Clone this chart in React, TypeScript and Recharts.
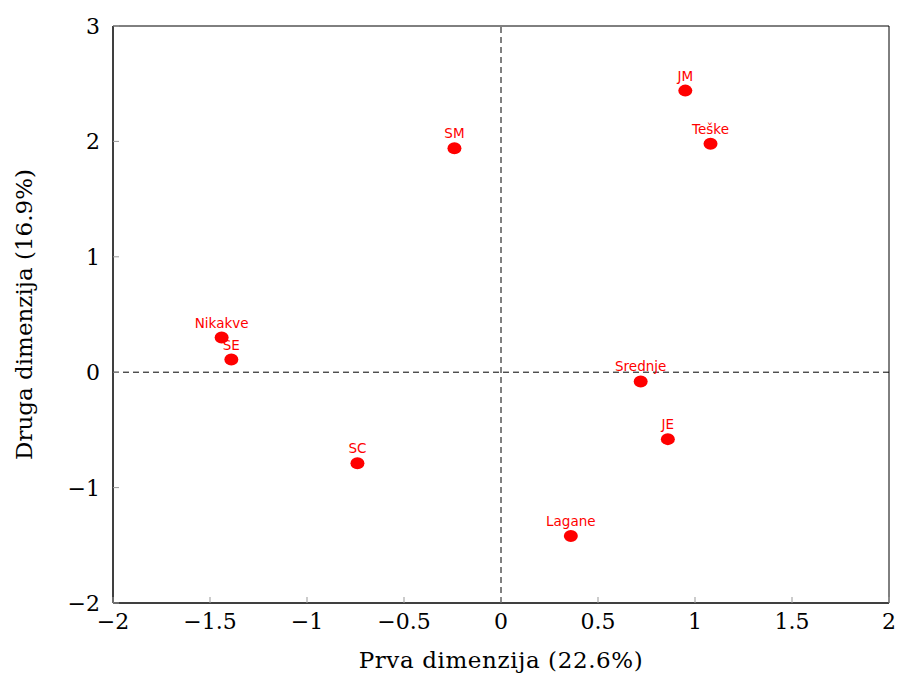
import {
  ScatterChart,
  Scatter,
  XAxis,
  YAxis,
  ReferenceLine,
  ReferenceArea,
} from "recharts";

const names = ["JM", "Teške", "SM", "Nikakve", "SE", "Srednje", "JE", "SC", "Lagane"];
const dim1 = [0.95, 1.08, -0.24, -1.44, -1.39, 0.72, 0.86, -0.74, 0.36];
const dim2 = [2.44, 1.98, 1.94, 0.3, 0.11, -0.08, -0.58, -0.79, -1.42];
const xTicks = [-2, -1.5, -1, -0.5, 0, 0.5, 1, 1.5, 2];
const yTicks = [-2, -1, 0, 1, 2, 3];

const points = names.map((name, i) => ({ name, x: dim1[i], y: dim2[i] }));

const fmt = (v: number) => (v < 0 ? "\u2212" + Math.abs(v) : String(v));
const serif = "'DejaVu Serif', serif";

const XTick = ({ x, y, payload }: any) => (
  <g>
    <line x1={x} y1={y} x2={x} y2={y - 6} stroke="#999" />
    <text x={x} y={y + 26} textAnchor="middle" fontFamily={serif} fontSize={22} fill="#000">
      {fmt(payload.value)}
    </text>
  </g>
);

const YTick = ({ x, y, payload }: any) => (
  <g>
    <line x1={x} y1={y} x2={x + 6} y2={y} stroke="#999" />
    <text x={x - 13} y={y + 8} textAnchor="end" fontFamily={serif} fontSize={22} fill="#000">
      {fmt(payload.value)}
    </text>
  </g>
);

const Dot = ({ cx, cy, payload }: any) => (
  <g>
    <ellipse cx={cx} cy={cy} rx={7} ry={6} fill="#ff0000" />
    <text
      x={cx}
      y={cy - 10}
      textAnchor="middle"
      fontFamily="'DejaVu Sans', sans-serif"
      fontSize={13.5}
      fill="#ff0000"
    >
      {payload.name}
    </text>
  </g>
);

export default function App() {
  return (
    <div style={{ position: "absolute", left: 0, top: 0 }}>
      <ScatterChart
        width={900}
        height={677}
        margin={{ top: 26, right: 11, left: 0, bottom: 0 }}
      >
        <XAxis
          type="number"
          dataKey="x"
          domain={[-2, 2]}
          ticks={xTicks}
          tick={<XTick />}
          tickLine={false}
          tickSize={0}
          tickMargin={0}
          height={74}
          axisLine={{ stroke: "#000" }}
          label={{
            content: ({ viewBox }: any) => (
              <text
                x={viewBox.x + viewBox.width / 2}
                y={viewBox.y + 65}
                textAnchor="middle"
                fontFamily={serif}
                fontSize={23}
                letterSpacing={0.6}
                fill="#000"
              >
                Prva dimenzija (22.6%)
              </text>
            ),
          }}
        />
        <YAxis
          type="number"
          dataKey="y"
          domain={[-2, 3]}
          ticks={yTicks}
          tick={<YTick />}
          tickLine={false}
          tickSize={0}
          tickMargin={0}
          width={113}
          axisLine={{ stroke: "#000" }}
          label={{
            content: ({ viewBox }: any) => {
              const cx = 32;
              const cy = viewBox.y + viewBox.height / 2;
              return (
                <text
                  x={cx}
                  y={cy}
                  transform={`rotate(-90 ${cx} ${cy})`}
                  textAnchor="middle"
                  fontFamily={serif}
                  fontSize={23}
                  fill="#000"
                >
                  Druga dimenzija (16.9%)
                </text>
              );
            },
          }}
        />
        <ReferenceArea x1={-2} x2={2} y1={-2} y2={3} fill="none" stroke="#000" strokeWidth={1} />
        <ReferenceLine x={0} stroke="#000" strokeDasharray="6 4" />
        <ReferenceLine y={0} stroke="#000" strokeDasharray="6 4" />
        <Scatter data={points} shape={<Dot />} isAnimationActive={false} />
      </ScatterChart>
    </div>
  );
}
